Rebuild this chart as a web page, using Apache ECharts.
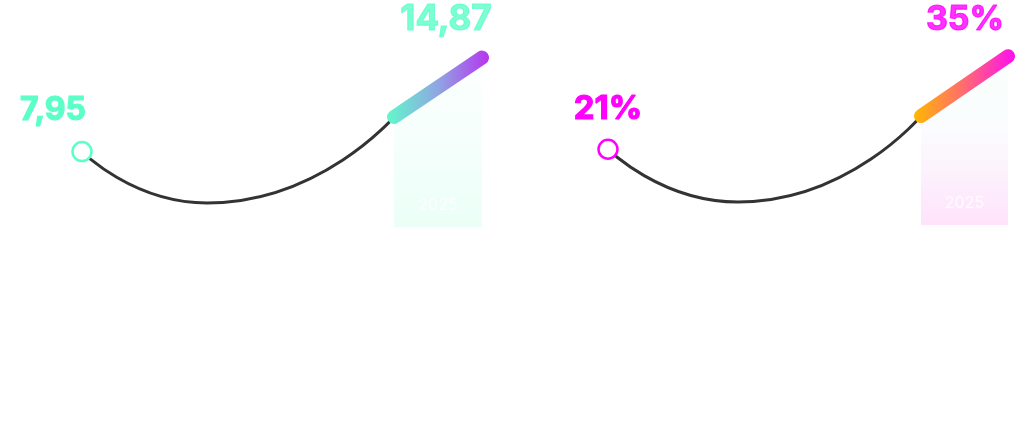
<!DOCTYPE html>
<html>
<head>
<meta charset="utf-8">
<script src="https://cdn.jsdelivr.net/npm/echarts@6/dist/echarts.min.js"></script>
<style>
html, body { margin: 0; padding: 0; background: #fff; }
#chart { width: 1024px; height: 429px; }
</style>
</head>
<body>
<div id="chart"></div>
<script>
// left panel: curve from start value, dip, then rising highlighted segment
var leftCurveX = [0, 31.25, 78];
var leftCurveY = [7.95, 4.17, 10.5];
var leftSegX = [78, 100];
var leftSegY = [10.5, 14.87];
var leftLabels = ['7,95', '14,87'];
var leftYMin = 2.4;

// right panel
var rightCurveX = [0, 32.5, 78.25];
var rightCurveY = [21, 13.06, 26.0];
var rightSegX = [78.25, 100];
var rightSegY = [26.0, 35];
var rightLabels = ['21%', '35%'];
var rightYMin = 9.6;

var yearLabel = '2025';

var mint = '#5cffc8';
var magenta = '#ff00ff';
var labelFont = 'Inter';

function pairs(xs, ys) {
    var out = [];
    for (var i = 0; i < xs.length; i++) {
        out.push([xs[i], ys[i]]);
    }
    return out;
}

function valueLabel(text, color, size, offset) {
    return {
        show: true,
        formatter: text,
        position: 'inside',
        offset: offset,
        color: color,
        fontFamily: labelFont,
        fontWeight: 'bold',
        fontSize: size,
        textBorderColor: color,
        textBorderWidth: 1.2
    };
}

function panelSeries(idx, curveX, curveY, segX, segY, yMin, labels, color, segColors, areaColors, startFont, endFont, startOffset, endOffset) {
    var lastSeg = segX.length - 1;
    return [
        {
            type: 'line',
            xAxisIndex: idx,
            yAxisIndex: idx,
            smooth: 0.6,
            symbol: 'none',
            clip: false,
            lineStyle: { color: '#333333', width: 3 },
            data: pairs(curveX, curveY),
            z: 2
        },
        {
            type: 'line',
            xAxisIndex: idx,
            yAxisIndex: idx,
            symbol: 'none',
            clip: false,
            lineStyle: {
                width: 14,
                cap: 'round',
                color: new echarts.graphic.LinearGradient(0, 0, 1, 0, [
                    { offset: 0, color: segColors[0] },
                    { offset: 0.5, color: segColors[1] },
                    { offset: 1, color: segColors[2] }
                ])
            },
            areaStyle: {
                origin: 'start',
                color: new echarts.graphic.LinearGradient(0, 0, 0, 1, areaColors)
            },
            data: pairs(segX, segY),
            z: 3
        },
        {
            type: 'scatter',
            xAxisIndex: idx,
            yAxisIndex: idx,
            clip: false,
            z: 10,
            data: [
                {
                    value: [curveX[0], curveY[0]],
                    symbol: 'circle',
                    symbolSize: 19,
                    itemStyle: { color: '#ffffff', borderColor: color, borderWidth: 2.5, opacity: 1 },
                    label: valueLabel(labels[0], color, startFont, startOffset)
                },
                {
                    value: [segX[lastSeg], segY[lastSeg]],
                    symbol: 'circle',
                    symbolSize: 1,
                    itemStyle: { color: 'rgba(0,0,0,0)' },
                    label: valueLabel(labels[1], color, endFont, endOffset)
                },
                {
                    // year caption at the foot of the highlighted span
                    value: [(segX[0] + segX[lastSeg]) / 2, yMin],
                    symbol: 'circle',
                    symbolSize: 1,
                    itemStyle: { color: 'rgba(0,0,0,0)' },
                    label: {
                        show: true,
                        formatter: yearLabel,
                        position: 'inside',
                        offset: [0, -22],
                        color: '#ffffff',
                        fontFamily: 'Inter',
                        fontSize: 16
                    }
                }
            ]
        }
    ];
}

var myChart = echarts.init(document.getElementById('chart'));

var hiddenX = { type: 'value', min: 0, max: 100, show: false };

var option = {
    backgroundColor: '#ffffff',
    animation: false,
    grid: [
        { left: 82, width: 400, top: 53.1, height: 173.9 },
        { left: 608, width: 400, top: 49.6, height: 175.4 }
    ],
    xAxis: [
        Object.assign({ gridIndex: 0 }, hiddenX),
        Object.assign({ gridIndex: 1 }, hiddenX)
    ],
    yAxis: [
        { type: 'value', gridIndex: 0, min: leftYMin, max: 15.2, show: false },
        { type: 'value', gridIndex: 1, min: rightYMin, max: 36, show: false }
    ],
    series: [].concat(
        panelSeries(0, leftCurveX, leftCurveY, leftSegX, leftSegY, leftYMin, leftLabels, mint,
            ['#62f8cc', '#8fa6e2', '#b634f0'],
            [
                { offset: 0, color: 'rgba(236,255,248,0.2)' },
                { offset: 1, color: 'rgba(226,255,244,1)' }
            ],
            32, 35, [-29, -41], [-36, -38]),
        panelSeries(1, rightCurveX, rightCurveY, rightSegX, rightSegY, rightYMin, rightLabels, magenta,
            ['#ffb800', '#ff6a72', '#ff10ee'],
            [
                { offset: 0, color: 'rgba(236,255,248,0.3)' },
                { offset: 0.45, color: 'rgba(248,250,252,0.9)' },
                { offset: 1, color: 'rgba(255,214,250,1)' }
            ],
            33, 34, [0, -40], [-43, -36])
    )
};

myChart.setOption(option);
</script>
</body>
</html>
